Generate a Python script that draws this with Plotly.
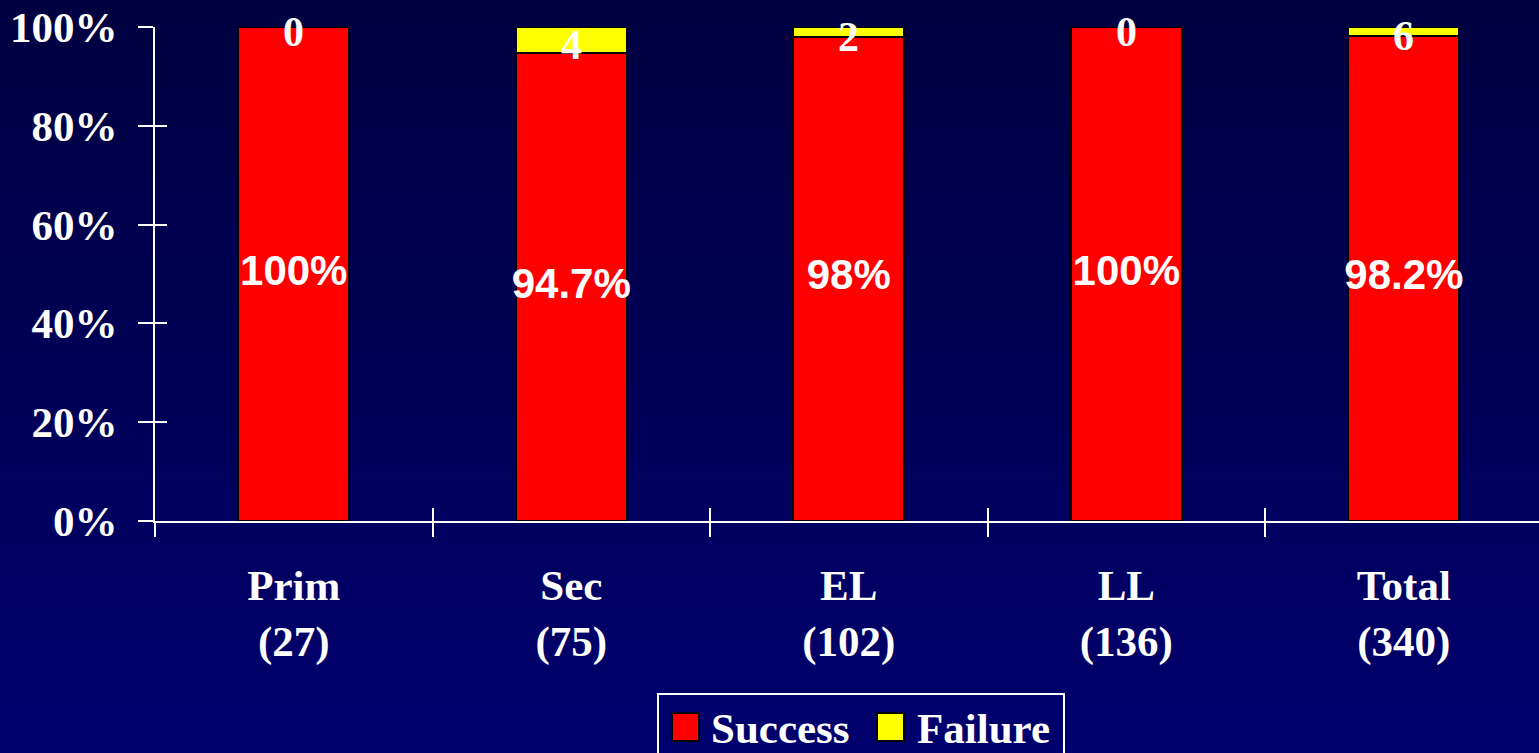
import plotly.graph_objects as go

# ---- data ----
categories = ["Prim<br>(27)", "Sec<br>(75)", "EL<br>(102)", "LL<br>(136)", "Total<br>(340)"]
success_pct = [100, 94.7, 98, 100, 98.2]
failure_pct = [0, 5.3, 2, 0, 1.8]
success_labels = ["100%", "94.7%", "98%", "100%", "98.2%"]
failure_counts = ["0", "4", "2", "0", "6"]
ytick_vals = [0, 20, 40, 60, 80, 100]
ytick_text = ["0%", "20%", "40%", "60%", "80%", "100%"]
legend_names = ["Success", "Failure"]

# ---- geometry ----
FW, FH = 1539, 753
L, T, R, B = 155, 27, 0, 232
W = FW - L - R
H = FH - T - B
XR = [-0.5, 4.487]

def px(x):
    return (x - L) / W

def py(y):
    return (T + H - y) / H

SERIF = "Liberation Serif"
SANS = "Liberation Sans"
RED = "#FF0000"
YEL = "#FFFF00"

fig = go.Figure()
fig.add_trace(go.Bar(x=categories, y=success_pct, name=legend_names[0], width=0.4,
                     marker=dict(color=RED, line=dict(color="black", width=2)),
                     showlegend=False, hoverinfo="skip"))
fig.add_trace(go.Bar(x=categories, y=failure_pct, name=legend_names[1], width=0.4,
                     marker=dict(color=YEL, line=dict(color="black", width=2)),
                     showlegend=False, hoverinfo="skip"))
fig.add_trace(go.Scatter(x=categories, y=[v / 2 for v in success_pct], mode="text",
                         text=success_labels, textposition="middle center",
                         textfont=dict(family=SANS, size=42, color="white", weight="bold"),
                         showlegend=False, cliponaxis=False, hoverinfo="skip"))

annotations = []
# failure counts centred in the failure segment
for cat, s, f, lab in zip(categories, success_pct, failure_pct, failure_counts):
    annotations.append(dict(x=cat, y=s + f / 2, xref="x", yref="y", text=lab,
                            showarrow=False, xanchor="center", yanchor="middle", yshift=-5,
                            font=dict(family=SERIF, size=42, color="white", weight="bold")))

# ---- gradient background ----
shapes = []
N = 150
y0p, y1p = py(FH), py(0)
for i in range(N):
    t = i / (N - 1)
    b = round(64 + (110 - 64) * t)
    ya = y1p - (y1p - y0p) * i / N
    yb = y1p - (y1p - y0p) * (i + 1) / N
    shapes.append(dict(type="rect", xref="paper", yref="paper", x0=px(0), x1=px(FW),
                       y0=yb - 0.002, y1=ya, fillcolor=f"rgb(0,0,{b})",
                       line=dict(width=0), layer="below"))

# ---- manual legend ----
shapes.append(dict(type="rect", xref="paper", yref="paper", x0=px(658), x1=px(1064),
                   y0=py(760), y1=py(694), line=dict(color="white", width=2),
                   fillcolor="rgba(0,0,0,0)", layer="above"))
leg_sq = [(672, 713, RED), (877, 713, YEL)]
for x0, y0, c in leg_sq:
    shapes.append(dict(type="rect", xref="paper", yref="paper", x0=px(x0), x1=px(x0 + 27),
                       y0=py(y0 + 28), y1=py(y0), fillcolor=c,
                       line=dict(color="black", width=2), layer="above"))
for name, xl in zip(legend_names, [709, 915]):
    annotations.append(dict(xref="paper", yref="paper", x=px(xl), y=py(728),
                            xanchor="left", yanchor="middle", text=name, showarrow=False,
                            font=dict(family=SERIF, size=43, color="white", weight="bold")))

fig.update_layout(
    width=FW, height=FH,
    margin=dict(l=L, r=R, t=T, b=B, pad=0),
    paper_bgcolor="rgb(0,0,80)", plot_bgcolor="rgba(0,0,0,0)",
    barmode="stack", bargap=0.6,
    shapes=shapes, annotations=annotations,
    xaxis=dict(type="category", range=XR, tickson="boundaries",
               ticks="outside", ticklen=14, tickwidth=2, tickcolor="white",
               showline=True, linecolor="white", linewidth=2, showgrid=False,
               zeroline=False, ticklabelstandoff=25,
               tickfont=dict(family=SERIF, size=43, color="white", weight="bold")),
    xaxis2=dict(type="category", range=XR, overlaying="x", tickson="boundaries",
                anchor="y", side="bottom", categoryorder="array", categoryarray=categories,
                ticks="inside", ticklen=13, tickwidth=2, tickcolor="white",
                showticklabels=False, showline=False, showgrid=False, zeroline=False),
    yaxis=dict(range=[0, 100], tickvals=ytick_vals, ticktext=ytick_text,
               ticks="outside", ticklen=15, tickwidth=2, tickcolor="white",
               showline=True, linecolor="white", linewidth=2, showgrid=False,
               zeroline=False, ticklabelstandoff=12,
               tickfont=dict(family=SERIF, size=43, color="white", weight="bold")),
    yaxis2=dict(range=[0, 100], tickvals=ytick_vals, overlaying="y", anchor="x",
                ticks="inside", ticklen=12, tickwidth=2, tickcolor="white",
                showticklabels=False, showline=False, showgrid=False, zeroline=False),
)
# invisible trace on the overlay axes so their inside ticks render
fig.add_trace(go.Scatter(x=categories, y=[None] * len(categories), xaxis="x2", yaxis="y2",
                         mode="markers", showlegend=False, hoverinfo="skip"))

fig.write_html("out.html")
